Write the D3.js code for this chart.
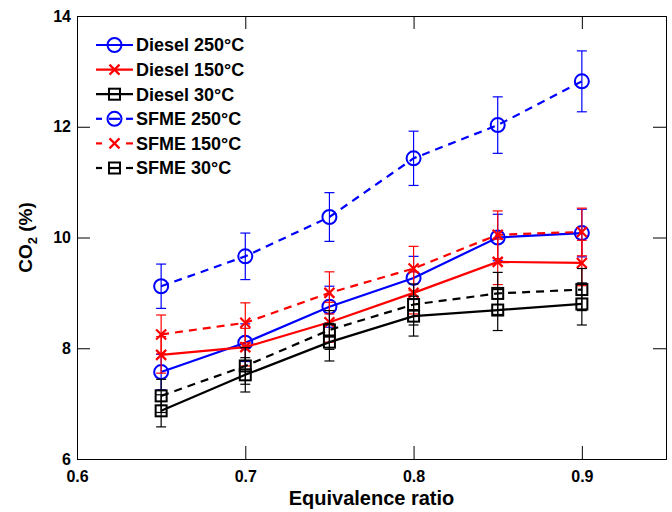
<!DOCTYPE html>
<html>
<head>
<meta charset="utf-8">
<script src="https://cdn.jsdelivr.net/npm/d3@7"></script>
<style>
  body { margin: 0; background: #fff; }
  text { font-family: "Liberation Sans", Arial, sans-serif; font-weight: bold; }
</style>
</head>
<body>
<svg id="chart" width="672" height="512"></svg>
<script>
const ratios = [0.65, 0.7, 0.75, 0.8, 0.85, 0.9];

// CO2 (%) per series, and the +/- error
const diesel250 = [7.57, 8.10, 8.75, 9.27, 10.00, 10.08];
const diesel250Err = [0.32, 0.34, 0.37, 0.39, 0.42, 0.43];
const diesel150 = [7.88, 8.02, 8.47, 9.00, 9.56, 9.54];
const diesel150Err = [0.33, 0.34, 0.36, 0.38, 0.41, 0.41];
const diesel30 = [6.87, 7.52, 8.11, 8.58, 8.69, 8.80];
const diesel30Err = [0.29, 0.31, 0.34, 0.36, 0.37, 0.38];
const sfme250 = [9.12, 9.66, 10.37, 11.43, 12.03, 12.82];
const sfme250Err = [0.40, 0.42, 0.44, 0.49, 0.51, 0.55];
const sfme150 = [8.25, 8.46, 9.00, 9.44, 10.05, 10.10];
const sfme150Err = [0.35, 0.36, 0.38, 0.40, 0.43, 0.43];
const sfme30 = [7.14, 7.68, 8.33, 8.79, 8.99, 9.06];
const sfme30Err = [0.30, 0.33, 0.35, 0.37, 0.38, 0.38];

const xTicks = [0.6, 0.7, 0.8, 0.9];
const yTicks = [6, 8, 10, 12, 14];

const series = [
  { name: "Diesel 250°C", values: diesel250, err: diesel250Err, color: "#0000ff", marker: "circle", dash: null },
  { name: "Diesel 150°C", values: diesel150, err: diesel150Err, color: "#ff0000", marker: "cross", dash: null },
  { name: "Diesel 30°C", values: diesel30, err: diesel30Err, color: "#000000", marker: "square", dash: null },
  { name: "SFME 250°C", values: sfme250, err: sfme250Err, color: "#0000ff", marker: "circle", dash: "8,6" },
  { name: "SFME 150°C", values: sfme150, err: sfme150Err, color: "#ff0000", marker: "cross", dash: "8,6" },
  { name: "SFME 30°C", values: sfme30, err: sfme30Err, color: "#000000", marker: "square", dash: "8,6" }
];

const margin = { top: 16, right: 6, bottom: 53, left: 77 },
    width = 672 - margin.left - margin.right,
    height = 512 - margin.top - margin.bottom;

const svg = d3.select("#chart");
const g = svg.append("g").attr("transform", `translate(${margin.left},${margin.top})`);

const x = d3.scaleLinear().domain([0.6, 0.95]).range([0, width]);
const y = d3.scaleLinear().domain([6, 14]).range([height, 0]);
const tickLen = 13;

// axes with inward ticks, box style
g.append("g").attr("transform", `translate(0,${height})`)
    .call(d3.axisBottom(x).tickValues(xTicks).tickFormat(d3.format(".1f")).tickSize(-tickLen).tickPadding(12))
    .call(a => a.selectAll("text").attr("font-size", 16).attr("fill", "#000"));
g.append("g")
    .call(d3.axisTop(x).tickValues(xTicks).tickSize(-tickLen).tickFormat(""));
g.append("g")
    .call(d3.axisLeft(y).tickValues(yTicks).tickSize(-tickLen).tickPadding(6))
    .call(a => a.selectAll("text").attr("font-size", 16).attr("fill", "#000"));
g.append("g").attr("transform", `translate(${width},0)`)
    .call(d3.axisRight(y).tickValues(yTicks).tickSize(-tickLen).tickFormat(""));
g.selectAll(".domain").attr("stroke", "#000").attr("stroke-width", 1);
g.selectAll(".tick line").attr("stroke", "#000").attr("stroke-width", 1);

const line = d3.line().x((d, i) => x(ratios[i])).y(d => y(d));

function drawMarker(sel, type, color) {
  if (type === "circle") {
    sel.append("circle").attr("r", 7).attr("fill", "none").attr("stroke", color).attr("stroke-width", 2);
  } else if (type === "cross") {
    sel.append("path").attr("d", "M-5,-5L5,5M-5,5L5,-5").attr("stroke", color).attr("stroke-width", 2.2).attr("fill", "none");
  } else {
    sel.append("rect").attr("x", -5.5).attr("y", -5.5).attr("width", 11).attr("height", 11)
        .attr("fill", "none").attr("stroke", color).attr("stroke-width", 2);
  }
}

series.forEach(s => {
  const sg = g.append("g");
  // error bars
  const eb = sg.selectAll(".err").data(s.values).join("g").attr("class", "err");
  eb.append("line")
      .attr("x1", (d, i) => x(ratios[i])).attr("x2", (d, i) => x(ratios[i]))
      .attr("y1", (d, i) => y(d - s.err[i])).attr("y2", (d, i) => y(d + s.err[i]))
      .attr("stroke", s.color).attr("stroke-width", 1.2);
  [-1, 1].forEach(sign => {
    eb.append("line")
        .attr("x1", (d, i) => x(ratios[i]) - 5).attr("x2", (d, i) => x(ratios[i]) + 5)
        .attr("y1", (d, i) => y(d + sign * s.err[i])).attr("y2", (d, i) => y(d + sign * s.err[i]))
        .attr("stroke", s.color).attr("stroke-width", 1.2);
  });
  sg.append("path").datum(s.values).attr("d", line)
      .attr("fill", "none").attr("stroke", s.color).attr("stroke-width", 2.2)
      .attr("stroke-dasharray", s.dash);
  sg.selectAll(".mk").data(s.values).join("g").attr("class", "mk")
      .attr("transform", (d, i) => `translate(${x(ratios[i])},${y(d)})`)
      .each(function() { drawMarker(d3.select(this), s.marker, s.color); });
});

// legend
const legend = g.append("g").attr("transform", "translate(19,29)");
series.forEach((s, i) => {
  const row = legend.append("g").attr("transform", `translate(0,${i * 24.6})`);
  if (s.dash) {
    row.append("line").attr("x1", 0).attr("x2", 6).attr("stroke", s.color).attr("stroke-width", 2.2);
    row.append("line").attr("x1", 30).attr("x2", 37).attr("stroke", s.color).attr("stroke-width", 2.2);
    if (s.marker !== "cross") {
      row.append("line").attr("x1", 13).attr("x2", 24).attr("stroke", s.color).attr("stroke-width", 2.2);
    }
  } else {
    row.append("line").attr("x1", 0).attr("x2", 37).attr("stroke", s.color).attr("stroke-width", 2.2);
  }
  drawMarker(row.append("g").attr("transform", "translate(18.5,0)"), s.marker, s.color);
  row.append("text").attr("x", 40).attr("dy", "0.36em").attr("font-size", 18).attr("fill", "#000").text(s.name);
});

// axis labels
g.append("text").attr("x", x(0.775)).attr("y", height + 46).attr("text-anchor", "middle")
    .attr("font-size", 20).text("Equivalence ratio");
const yl = g.append("text").attr("transform", `translate(-45,${height / 2}) rotate(-90)`)
    .attr("text-anchor", "middle").attr("font-size", 19);
yl.append("tspan").text("CO");
yl.append("tspan").attr("font-size", 13).attr("dy", 5).text("2");
yl.append("tspan").attr("dy", -5).text(" (%)");
</script>
</body>
</html>
